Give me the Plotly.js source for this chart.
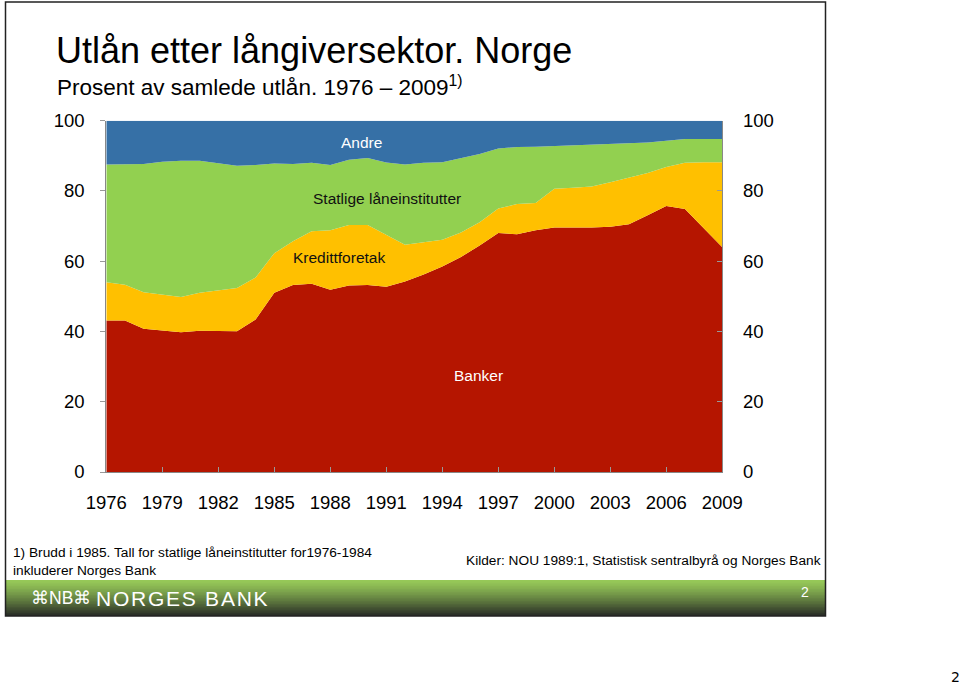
<!DOCTYPE html>
<html>
<head>
<meta charset="utf-8">
<script src="https://cdn.plot.ly/plotly-3.0.1.min.js"></script>
<style>
  body { margin: 0; padding: 0; background: #fff; }
  #chart { width: 960px; height: 685px; }
</style>
</head>
<body>
<div id="chart"></div>
<script>
// data: share of total lending, per cent
var years = [1976, 1977, 1978, 1979, 1980, 1981, 1982, 1983, 1984, 1985, 1986, 1987,
             1988, 1989, 1990, 1991, 1992, 1993, 1994, 1995, 1996, 1997, 1998, 1999,
             2000, 2001, 2002, 2003, 2004, 2005, 2006, 2007, 2008, 2009];

var banker = [43.1, 43.1, 40.8, 40.2, 39.8, 40.2, 40.1, 40.1, 43.4, 51.0, 53.2, 53.6,
              51.9, 53.1, 53.2, 52.7, 54.2, 56.2, 58.5, 61.2, 64.5, 68.0, 67.7, 68.8,
              69.6, 69.5, 69.6, 69.8, 70.5, 73.1, 75.7, 74.9, 69.4, 64.0];

var kredittforetak = [10.9, 10.2, 10.4, 10.3, 10.0, 10.8, 11.5, 12.3, 12.0, 11.3, 12.5, 14.9,
                      16.9, 17.2, 17.1, 14.9, 10.5, 9.2, 7.6, 7.0, 6.6, 7.0, 8.6, 7.8,
                      11.0, 11.4, 11.7, 12.7, 13.4, 12.0, 11.1, 13.1, 18.8, 24.2];

var statlige = [33.5, 34.2, 36.5, 37.8, 38.8, 37.6, 36.4, 34.8, 32.0, 25.5, 22.0, 19.5,
                18.6, 18.6, 19.1, 20.5, 22.8, 22.6, 22.1, 21.2, 19.4, 17.1, 16.2, 16.0,
                12.2, 12.0, 11.9, 11.0, 9.7, 8.7, 7.5, 6.8, 6.6, 6.6];

var andre = [12.5, 12.5, 12.3, 11.7, 11.4, 11.4, 12.0, 12.8, 12.6, 12.2, 12.3, 12.0,
             12.6, 11.1, 10.6, 11.9, 12.5, 12.0, 11.8, 10.6, 9.5, 7.9, 7.5, 7.4,
             7.2, 7.1, 6.8, 6.5, 6.4, 6.2, 5.7, 5.2, 5.2, 5.2];

var seriesNames = ['Banker', 'Kredittforetak', 'Statlige låneinstitutter', 'Andre'];
var seriesColors = ['#B51500', '#FFC000', '#92D050', '#3670A6'];
var xTicks = [1976, 1979, 1982, 1985, 1988, 1991, 1994, 1997, 2000, 2003, 2006, 2009];

// page pixel -> paper fraction (margins are zero, so paper = whole page)
function px(x) { return x / 960; }
function py(y) { return 1 - y / 685; }

var font = 'Liberation Sans, Arial, sans-serif';

// traces
var values = [banker, kredittforetak, statlige, andre];
var data = [];
for (var i = 0; i < values.length; i++) {
    data.push({
        x: years,
        y: values[i],
        name: seriesNames[i],
        type: 'scatter',
        mode: 'lines',
        stackgroup: 'one',
        line: {width: 0, color: seriesColors[i]},
        fillcolor: seriesColors[i],
        hoverinfo: 'x+y+name'
    });
}
// invisible trace to draw the right-hand axis
data.push({x: [1976, 2009], y: [0, 100], yaxis: 'y2', mode: 'markers',
           marker: {opacity: 0}, hoverinfo: 'skip', showlegend: false});

// footer band with a green-to-dark gradient made of thin strips
var shapes = [];
var bandTop = 580, bandBottom = 616, steps = 24;
var bandStart = [150, 200, 88], bandEnd = [40, 44, 38];
for (var s = 0; s < steps; s++) {
    var t = s / (steps - 1);
    var k = Math.pow(t, 1.25);
    var c = 'rgb(' + [0, 1, 2].map(function(j) {
        return Math.round(bandStart[j] + (bandEnd[j] - bandStart[j]) * k);
    }).join(',') + ')';
    var y0 = bandTop + (bandBottom - bandTop) * s / steps;
    var y1 = bandTop + (bandBottom - bandTop) * (s + 1) / steps + 0.6;
    shapes.push({type: 'rect', xref: 'paper', yref: 'paper',
                 x0: px(6), x1: px(825), y0: py(y0), y1: py(Math.min(y1, bandBottom)),
                 fillcolor: c, line: {width: 0}, layer: 'below'});
}
// slide frame
shapes.push({type: 'rect', xref: 'paper', yref: 'paper',
             x0: px(5.5), x1: px(825.5), y0: py(2), y1: py(616),
             line: {color: '#222', width: 1.5}, fillcolor: 'rgba(0,0,0,0)'});

var hair = '\u200A';
var annotations = [
    {text: 'Utlån etter långiversektor. Norge', x: px(54), y: py(50),
     font: {size: 36, color: '#000'}},
    {text: 'Prosent av samlede utlån. 1976 – 2009<sup>1)</sup>', x: px(55), y: py(86),
     font: {size: 22.5, color: '#000'}},

    {text: 'Andre', x: px(361), y: py(142), xanchor: 'center', font: {size: 15.5, color: '#fff'}},
    {text: 'Statlige låneinstitutter', x: px(387), y: py(199), xanchor: 'center', font: {size: 15.5, color: '#111'}},
    {text: 'Kredittforetak', x: px(339), y: py(257), xanchor: 'center', font: {size: 15.5, color: '#111'}},
    {text: 'Banker', x: px(478), y: py(375), xanchor: 'center', font: {size: 15.5, color: '#fff'}},

    {text: '1) Brudd i 1985. Tall for statlige låneinstitutter for1976-1984<br>inkluderer Norges Bank',
     x: px(11), y: py(561), align: 'left', font: {size: 13.7, color: '#000'}},
    {text: 'Kilder: NOU 1989:1, Statistisk sentralbyrå og Norges Bank', x: px(464), y: py(560),
     font: {size: 13.7, color: '#000'}},

    {text: '⌘NB⌘', x: px(29), y: py(598), font: {size: 17.5, color: '#fff'}},
    {text: 'NORGES BANK'.split('').join(hair), x: px(94), y: py(598),
     font: {size: 21, color: '#fff'}},
    {text: '2', x: px(805), y: py(592), xanchor: 'center', font: {size: 14, color: '#fff'}},
    {text: '2', x: px(955), y: py(677), xanchor: 'center', font: {family: 'DejaVu Sans, sans-serif', size: 14, color: '#000'}}
];
annotations.forEach(function(a) {
    a.xref = 'paper';
    a.yref = 'paper';
    a.showarrow = false;
    a.xanchor = a.xanchor || 'left';
    a.yanchor = 'middle';
    a.font.family = a.font.family || font;
});

// layout
var layout = {
    width: 960,
    height: 685,
    margin: {l: 0, r: 0, t: 0, b: 0},
    paper_bgcolor: '#fff',
    plot_bgcolor: '#fff',
    showlegend: false,
    font: {family: font, color: '#000'},
    xaxis: {
        domain: [px(106.3), px(722.3)],
        range: [1976, 2009],
        tickvals: xTicks,
        ticks: 'inside',
        ticklen: 5,
        tickcolor: '#999',
        showline: true,
        linecolor: '#888',
        linewidth: 1,
        showgrid: false,
        zeroline: false,
        ticklabelstandoff: 14,
        tickfont: {size: 18.5, color: '#000'}
    },
    yaxis: {
        domain: [py(472), py(120.7)],
        range: [0, 100],
        dtick: 20,
        ticks: 'outside',
        ticklen: 5,
        tickcolor: '#999',
        showline: true,
        linecolor: '#888',
        showgrid: false,
        zeroline: false,
        ticklabelstandoff: 12,
        tickfont: {size: 18.5, color: '#000'}
    },
    yaxis2: {
        overlaying: 'y',
        side: 'right',
        range: [0, 100],
        dtick: 20,
        ticks: 'inside',
        ticklen: 5,
        tickcolor: '#999',
        showline: true,
        linecolor: '#888',
        showgrid: false,
        zeroline: false,
        ticklabelstandoff: 16,
        tickfont: {size: 18.5, color: '#000'}
    },
    shapes: shapes,
    annotations: annotations
};

Plotly.newPlot('chart', data, layout, {displayModeBar: false, displaylogo: false});
</script>
</body>
</html>
